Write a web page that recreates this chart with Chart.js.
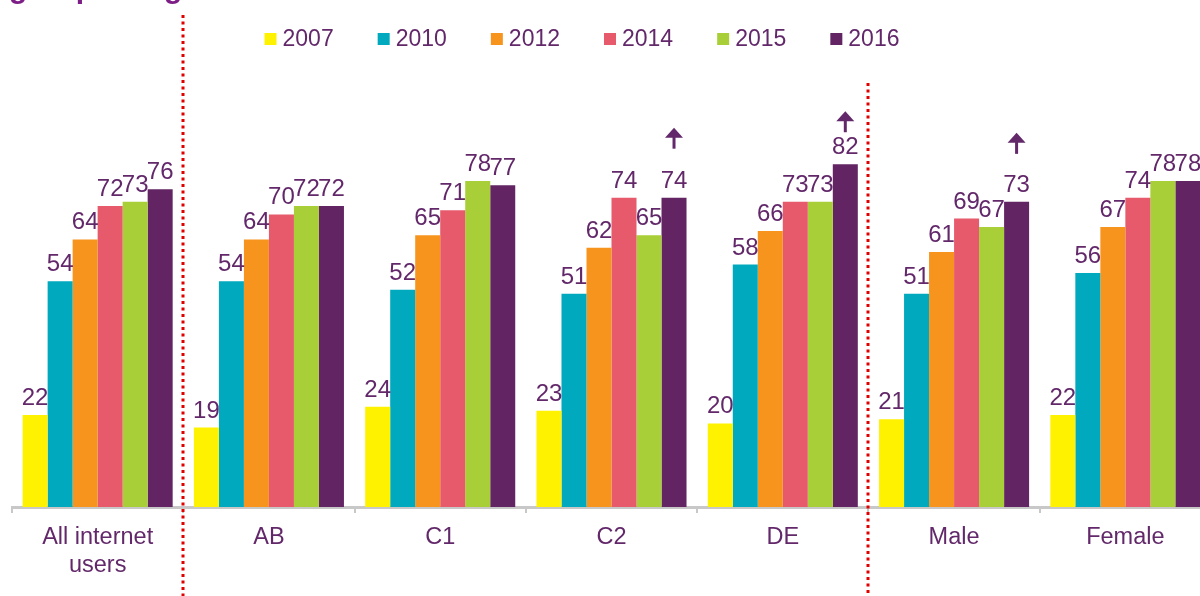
<!DOCTYPE html>
<html>
<head>
<meta charset="utf-8">
<script src="https://cdn.jsdelivr.net/npm/chart.js@4"></script>
<style>
  html, body { margin: 0; padding: 0; background: #fff; overflow: hidden; }
  #wrap { position: relative; width: 1211px; height: 596px; }
</style>
</head>
<body>
<div id="wrap"><canvas id="chart"></canvas></div>
<script>
// categories along the x axis
var categories = [['All internet', 'users'], 'AB', 'C1', 'C2', 'DE', 'Male', 'Female'];

// one array per survey year
var years = ['2007', '2010', '2012', '2014', '2015', '2016'];
var v2007 = [22, 19, 24, 23, 20, 21, 22];
var v2010 = [54, 54, 52, 51, 58, 51, 56];
var v2012 = [64, 64, 65, 62, 66, 61, 67];
var v2014 = [72, 70, 71, 74, 73, 69, 74];
var v2015 = [73, 72, 78, 65, 73, 67, 78];
var v2016 = [76, 72, 77, 74, 82, 73, 78];

// categories where 2016 carries an "up" arrow
var arrowUp2016 = [false, false, false, true, true, true, false];

var colors = ['#fff200', '#00a9bd', '#f7941d', '#e65a6b', '#a9cf38', '#622462'];
var textColor = '#62286a';
var fontFamily = '"Liberation Sans", Arial, sans-serif';
// distance from bar top to the arrow's foot
var arrowGap = { 3: 49, 4: 32, 5: 48 };

var series = [v2007, v2010, v2012, v2014, v2015, v2016];

var datasets = series.map(function (vals, i) {
    return {
        label: years[i],
        data: vals,
        backgroundColor: colors[i],
        borderWidth: 0
    };
});

/**
 * Draws the value labels, the arrows, the legend, the dotted
 * separators and the cut title.
 */
var decorations = {
    id: 'decorations',
    afterDatasetsDraw: function (chart) {
        var ctx = chart.ctx;
        ctx.save();

        // value labels
        ctx.font = '24px ' + fontFamily;
        ctx.fillStyle = textColor;
        ctx.textAlign = 'center';
        ctx.textBaseline = 'alphabetic';
        chart.data.datasets.forEach(function (ds, di) {
            var meta = chart.getDatasetMeta(di);
            meta.data.forEach(function (bar, i) {
                ctx.fillText(String(ds.data[i]), bar.x, bar.y - 10);
            });
        });

        // arrows above 2016 bars
        var last = chart.getDatasetMeta(chart.data.datasets.length - 1);
        ctx.fillStyle = textColor;
        ctx.strokeStyle = textColor;
        last.data.forEach(function (bar, i) {
            if (!arrowUp2016[i]) return;
            var bottom = bar.y - (arrowGap[i] || 40);
            var top = bottom - 21;
            ctx.lineWidth = 3;
            ctx.beginPath();
            ctx.moveTo(bar.x, bottom);
            ctx.lineTo(bar.x, top + 9);
            ctx.stroke();
            ctx.beginPath();
            ctx.moveTo(bar.x, top);
            ctx.lineTo(bar.x - 9, top + 10);
            ctx.lineTo(bar.x + 9, top + 10);
            ctx.closePath();
            ctx.fill();
        });

        // dotted separators
        var xs = chart.scales.x;
        function between(i) {
            return (xs.getPixelForValue(i - 1) + xs.getPixelForValue(i)) / 2;
        }
        ctx.strokeStyle = '#e00000';
        ctx.lineWidth = 3;
        ctx.setLineDash([3, 3.5]);
        [[1, 15], [5, 83]].forEach(function (s) {
            var x = Math.round(between(s[0]));
            ctx.beginPath();
            ctx.moveTo(x, s[1]);
            ctx.lineTo(x, chart.height);
            ctx.stroke();
        });
        ctx.setLineDash([]);

        // legend
        ctx.font = '23px ' + fontFamily;
        ctx.textAlign = 'left';
        ctx.textBaseline = 'middle';
        var box = 12, gap = 6, spacing = 44, cy = 39, center = 582;
        var total = 0;
        chart.data.datasets.forEach(function (ds) {
            total += box + gap + ctx.measureText(ds.label).width + spacing;
        });
        total -= spacing;
        var x = center - total / 2;
        chart.data.datasets.forEach(function (ds) {
            ctx.fillStyle = ds.backgroundColor;
            ctx.fillRect(x, cy - box / 2, box, box);
            ctx.fillStyle = textColor;
            ctx.fillText(ds.label, x + box + gap, cy + 1);
            x += box + gap + ctx.measureText(ds.label).width + spacing;
        });

        // title, cut by the top edge
        ctx.font = 'bold 30px ' + fontFamily;
        ctx.fillStyle = '#7d1e87';
        ctx.textBaseline = 'alphabetic';
        ctx.fillText('group and gender', 9, -2);

        ctx.restore();
    }
};

new Chart(document.getElementById('chart'), {
    type: 'bar',
    data: { labels: categories, datasets: datasets },
    options: {
        responsive: true,
        maintainAspectRatio: false,
        animation: false,
        layout: { padding: { top: 89, left: 12, right: 0, bottom: 0 } },
        plugins: {
            legend: { display: false },
            tooltip: { enabled: false }
        },
        datasets: {
            bar: { categoryPercentage: 0.876, barPercentage: 1 }
        },
        scales: {
            x: {
                afterFit: function (scale) { scale.height = 89; },
                border: { color: '#c8c8c8', width: 3 },
                grid: {
                    offset: true,
                    drawOnChartArea: false,
                    tickLength: 6,
                    color: '#c8c8c8',
                    lineWidth: 2
                },
                ticks: {
                    color: textColor,
                    font: { size: 23.5, family: fontFamily },
                    padding: 10,
                    maxRotation: 0,
                    autoSkip: false
                }
            },
            y: {
                display: false,
                min: 0,
                max: 100
            }
        }
    },
    plugins: [decorations]
});
</script>
</body>
</html>
